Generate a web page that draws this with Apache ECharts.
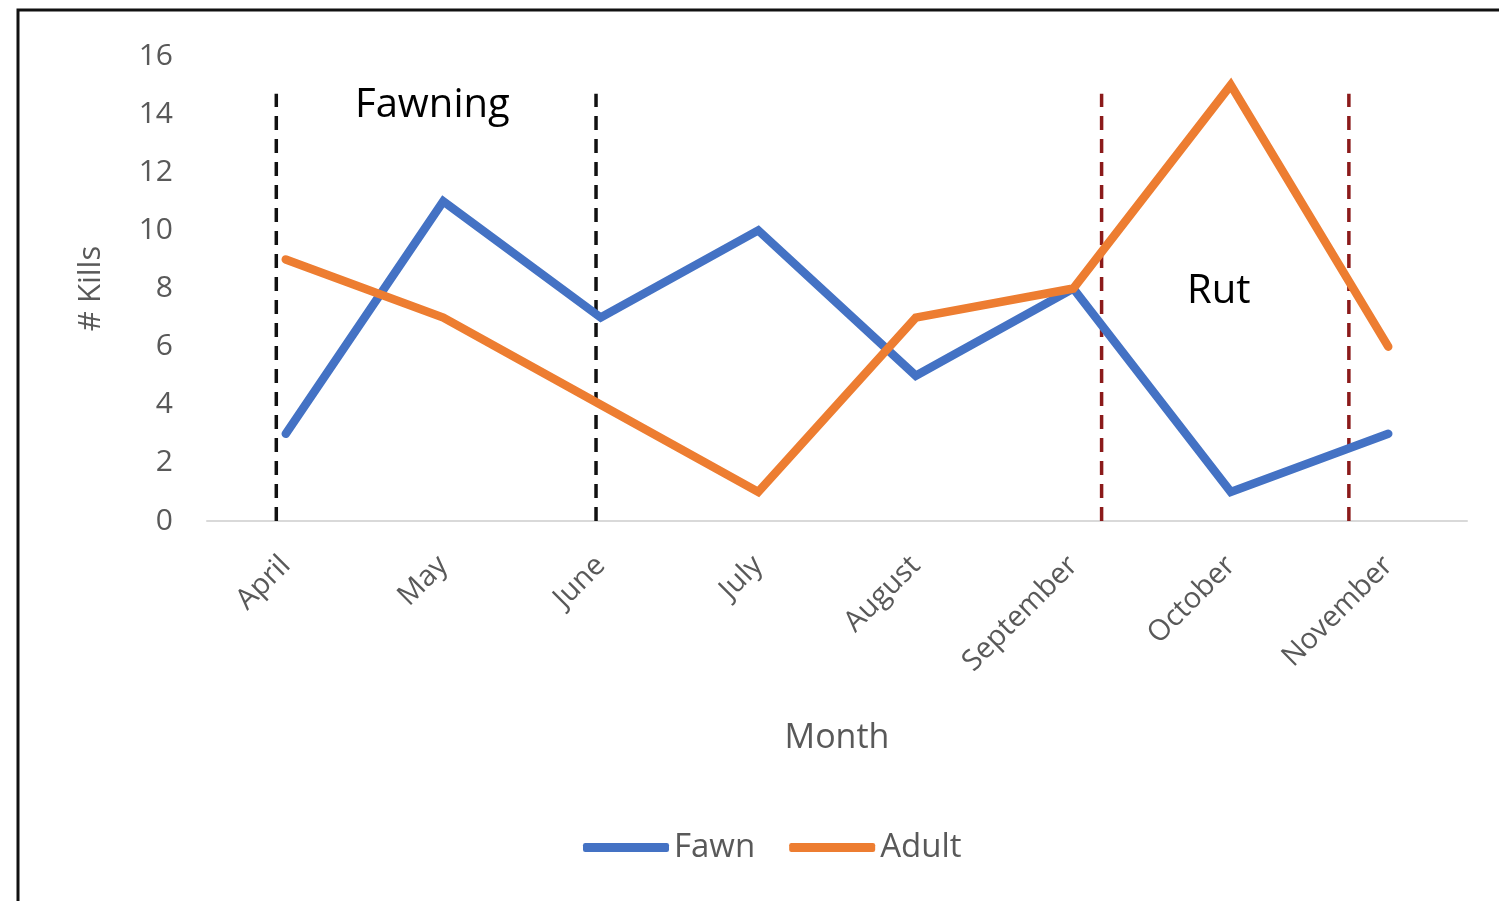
<!DOCTYPE html>
<html>
<head>
<meta charset="utf-8">
<script src="https://cdn.jsdelivr.net/npm/echarts@6/dist/echarts.min.js"></script>
<style>
  html, body { margin: 0; padding: 0; background: #fff; }
  #main { width: 1499px; height: 901px; }
</style>
</head>
<body>
<div id="main"></div>
<script>
var months = ['April', 'May', 'June', 'July', 'August', 'September', 'October', 'November'];
var fawnKills = [3, 11, 7, 10, 5, 8, 1, 3];
var adultKills = [9, 7, 4, 1, 7, 8, 15, 6];
var yTicks = [0, 2, 4, 6, 8, 10, 12, 14, 16];
// dashed phase markers, in month-index units
var fawningMarks = [-0.06, 1.97];
var rutMarks = [5.18, 6.75];
var markTop = 14.7;

var fontFam = '"Open Sans", "Liberation Sans", sans-serif';

function markSeries(x, color) {
    return {
        type: 'line',
        xAxisIndex: 1,
        yAxisIndex: 0,
        data: [[x, 0], [x, markTop]],
        symbol: 'none',
        silent: true,
        z: 1,
        lineStyle: { color: color, width: 3.5, type: [14, 9] }
    };
}

var chart = echarts.init(document.getElementById('main'));
var series = [
    {
        name: 'Fawn',
        type: 'line',
        data: fawnKills,
        symbol: 'none',
        z: 3,
        lineStyle: { color: '#4472C4', width: 8.5, cap: 'round', join: 'miter' },
        itemStyle: { color: '#4472C4' }
    },
    {
        name: 'Adult',
        type: 'line',
        data: adultKills,
        symbol: 'none',
        z: 3,
        lineStyle: { color: '#ED7D31', width: 8.5, cap: 'round', join: 'miter' },
        itemStyle: { color: '#ED7D31' }
    }
];
fawningMarks.forEach(function (x) { series.push(markSeries(x, '#111111')); });
rutMarks.forEach(function (x) { series.push(markSeries(x, '#8B1A1A')); });

chart.setOption({
    animation: false,
    backgroundColor: '#fff',
    grid: { left: 207, right: 32, top: 56, bottom: 380 },
    xAxis: [
        {
            type: 'category',
            data: months,
            boundaryGap: true,
            name: 'Month',
            nameLocation: 'middle',
            nameGap: 200,
            nameTextStyle: { color: '#595959', fontSize: 34, fontFamily: fontFam },
            axisLine: { lineStyle: { color: '#d9d9d9', width: 2 } },
            axisTick: { show: false },
            axisLabel: { rotate: 45, color: '#595959', fontSize: 29, fontFamily: fontFam, margin: 40 }
        },
        {
            type: 'value',
            min: -0.5,
            max: 7.5,
            show: false
        }
    ],
    yAxis: {
        type: 'value',
        min: yTicks[0],
        max: yTicks[yTicks.length - 1],
        interval: 2,
        name: '# Kills',
        nameLocation: 'middle',
        nameGap: 100,
        nameRotate: 90,
        nameTextStyle: { color: '#595959', fontSize: 31, fontFamily: fontFam },
        axisLine: { show: false },
        axisTick: { show: false },
        splitLine: { show: false },
        axisLabel: { color: '#595959', fontSize: 30, fontFamily: fontFam, margin: 34 }
    },
    legend: {
        data: ['Fawn', 'Adult'],
        bottom: 32,
        left: 578,
        icon: 'roundRect',
        itemWidth: 86,
        itemHeight: 9,
        itemGap: 34,
        textStyle: { color: '#595959', fontSize: 33, fontFamily: fontFam }
    },
    graphic: [
        {
            type: 'rect',
            shape: { x: 18, y: 10, width: 1500, height: 900 },
            style: { fill: 'none', stroke: '#111', lineWidth: 3 },
            silent: true
        },
        {
            type: 'text',
            left: 355, top: 86,
            style: { text: 'Fawning', fill: '#000', fontSize: 40, fontFamily: fontFam }
        },
        {
            type: 'text',
            left: 1187, top: 272,
            style: { text: 'Rut', fill: '#000', fontSize: 40, fontFamily: fontFam }
        }
    ],
    series: series
});
</script>
</body>
</html>
